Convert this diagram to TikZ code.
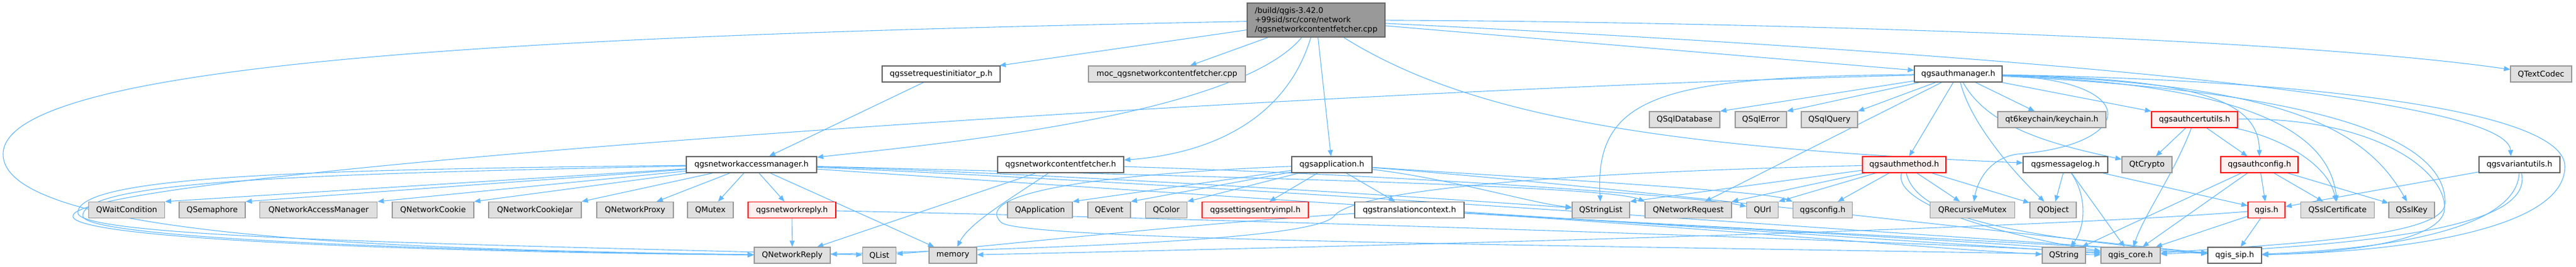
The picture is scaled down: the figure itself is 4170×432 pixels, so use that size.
\documentclass[tikz,border=0pt]{standalone}
\usepackage{fontspec}
\setmainfont{DejaVu Sans}
\usetikzlibrary{arrows.meta}
\pgfdeclarelayer{edgelayer}
\pgfsetlayers{edgelayer,main}
\definecolor{edgec}{HTML}{63B8FF}
\definecolor{extfill}{HTML}{E0E0E0}
\definecolor{extdraw}{HTML}{999999}
\definecolor{docdraw}{HTML}{666666}
\definecolor{redfill}{HTML}{FFF0F0}
\definecolor{reddraw}{HTML}{FF0000}
\definecolor{mainfill}{HTML}{999999}
\begin{document}
\begin{tikzpicture}[x=1pt,y=-1pt,
  box/.style={rectangle, inner sep=0pt, minimum height=26pt, line width=1.3pt, font=\fontsize{12.7pt}{15pt}\selectfont},
  ext/.style={box, fill=extfill, draw=extdraw},
  doc/.style={box, fill=white, draw=docdraw},
  redbox/.style={box, fill=redfill, draw=reddraw},
  mainbox/.style={box, fill=mainfill, draw=docdraw, align=left, minimum height=55pt},
  e/.style={draw=edgec, line width=1.1pt, -{Triangle[length=10pt,width=8pt]}}
]
\useasboundingbox (0,0) rectangle (4170,432);
% row 0
\node[mainbox, minimum width=223pt] (main) at (2130.5,32.5) {/build/qgis-3.42.0\\+99sid/src/core/network\\/qgsnetworkcontentfetcher.cpp};
% row 1
\node[doc, minimum width=191pt] (sri) at (1523.5,120) {qgssetrequestinitiator\_p.h};
\node[ext, minimum width=254pt] (moc) at (1889,120) {moc\_qgsnetworkcontentfetcher.cpp};
\node[doc, minimum width=142pt] (am) at (3170,120) {qgsauthmanager.h};
\node[ext, minimum width=99pt] (qtc) at (4113.5,120) {QTextCodec};
% row 1.5
\node[ext, minimum width=114pt] (sqldb) at (2727,194) {QSqlDatabase};
\node[ext, minimum width=83pt] (sqlerr) at (2850.5,194) {QSqlError};
\node[ext, minimum width=91pt] (sqlq) at (2961.5,194) {QSqlQuery};
\node[ext, minimum width=175pt] (kc) at (3321.5,194) {qt6keychain/keychain.h};
\node[redbox, minimum width=139pt] (acu) at (3552.5,194) {qgsauthcertutils.h};
% row 2
\node[doc, minimum width=211pt] (nam) at (1216.5,267) {qgsnetworkaccessmanager.h};
\node[doc, minimum width=204pt] (ncf) at (1717,267) {qgsnetworkcontentfetcher.h};
\node[doc, minimum width=130pt] (app) at (2156,267) {qgsapplication.h};
\node[redbox, minimum width=135pt] (amth) at (3082.5,267) {qgsauthmethod.h};
\node[doc, minimum width=137pt] (ml) at (3343.5,267) {qgsmessagelog.h};
\node[ext, minimum width=81pt] (qca) at (3475.5,267) {QtCrypto};
\node[redbox, minimum width=125pt] (ac) at (3657.5,267) {qgsauthconfig.h};
\node[doc, minimum width=131pt] (vu) at (4078.5,267) {qgsvariantutils.h};
% row 3
\node[ext, minimum width=123pt] (qwc) at (205,340.5) {QWaitCondition};
\node[ext, minimum width=107pt] (qsem) at (343.5,340.5) {QSemaphore};
\node[ext, minimum width=190pt] (qnam) at (515.7,340.5) {QNetworkAccessManager};
\node[ext, minimum width=132pt] (qnc) at (701,340.5) {QNetworkCookie};
\node[ext, minimum width=150pt] (qncj) at (866,340.5) {QNetworkCookieJar};
\node[ext, minimum width=124pt] (qnp) at (1028,340.5) {QNetworkProxy};
\node[ext, minimum width=74pt] (qmx) at (1150,340.5) {QMutex};
\node[redbox, minimum width=142pt] (nr) at (1282,340.5) {qgsnetworkreply.h};
\node[ext, minimum width=105pt] (qapp) at (1683.5,340.5) {QApplication};
\node[ext, minimum width=69pt] (qev) at (1795.5,340.5) {QEvent};
\node[ext, minimum width=67pt] (qcol) at (1888,340.5) {QColor};
\node[redbox, minimum width=172pt] (sei) at (2032,340.5) {qgssettingsentryimpl.h};
\node[doc, minimum width=177pt] (tc) at (2281.5,340.5) {qgstranslationcontext.h};
\node[ext, minimum width=93pt] (qsl) at (2591.5,340.5) {QStringList};
\node[ext, minimum width=140pt] (qnrq) at (2733,340.5) {QNetworkRequest};
\node[ext, minimum width=51pt] (qurl) at (2853,340.5) {QUrl};
\node[ext, minimum width=96pt] (cfg) at (2950.5,340.5) {qgsconfig.h};
\node[ext, minimum width=137pt] (qrm) at (3193,340.5) {QRecursiveMutex};
\node[ext, minimum width=75pt] (qobj) at (3323.5,340.5) {QObject};
\node[redbox, minimum width=60pt] (qgis) at (3669,340.5) {qgis.h};
\node[ext, minimum width=119pt] (qssl) at (3784,340.5) {QSslCertificate};
\node[ext, minimum width=74pt] (qkey) at (3904,340.5) {QSslKey};
% row 4
\node[ext, minimum width=123pt] (qnr) at (1282.5,414) {QNetworkReply};
\node[ext, minimum width=54pt] (qlist) at (1423.5,414) {QList};
\node[ext, minimum width=77pt] (mem) at (1542.5,414) {memory};
\node[ext, minimum width=70pt] (qstr) at (3341,414) {QString};
\node[ext, minimum width=96pt] (core) at (3449,414) {qgis\_core.h};
\node[doc, minimum width=87pt] (sip) at (3617.5,414) {qgis\_sip.h};

\begin{pgfonlayer}{edgelayer}
% ---- edges: main
\draw[e] (main) -- (sri);
\draw[e] (main) -- (moc);
\draw[e] (main) .. controls (2000,190) and (1500,235) .. (nam);
\draw[e] (main) .. controls (2080,200) and (1950,250) .. (ncf);
\draw[e] (main) -- (app);
\draw[e] (main) -- (am);
\draw[e] (main) .. controls (2800,35) and (3700,60) .. (qtc);
\draw[e] (main) .. controls (3500,100) and (4060,170) .. ([xshift=-14pt]vu.north);
\draw[e] (main) .. controls (2380,190) and (2700,240) .. (ml);
\draw[e] (main) .. controls (1000,55) and (5,90) .. (5,250) .. controls (5,390) and (700,405) .. (qnr);
\draw[e] (sri) -- (nam);
% ---- nam
\draw[e] (nam) -- (qwc.north east);
\draw[e] (nam) -- (qsem.north east);
\draw[e] (nam) -- (qnam.north east);
\draw[e] (nam) -- (qnc.north east);
\draw[e] (nam) -- (qncj.north east);
\draw[e] (nam) -- (qnp);
\draw[e] (nam) -- (qmx);
\draw[e] (nam) -- (nr);
\draw[e] (nam) -- (mem);
\draw[e] (nam) .. controls (500,275) and (126,285) .. (126,345) .. controls (126,385) and (700,395) .. (qlist);
\draw[e] (nam) .. controls (520,282) and (134,292) .. (134,350) .. controls (134,390) and (800,408) .. (qnr);
\draw[e] (nam) .. controls (1800,285) and (2450,330) .. (qsl);
\draw[e] (nam) .. controls (1900,285) and (2600,300) .. (qnrq.north west);
\draw[e] (nam) .. controls (1700,300) and (3000,385) .. (core);
\draw[e] (nam) .. controls (2000,300) and (3300,395) .. (sip);
% ---- nr
\draw[e] (nr) -- (qnr);
\draw[e] (nr) .. controls (2000,355) and (3200,395) .. (core);
% ---- ncf
\draw[e] (ncf) -- (qnr);
\draw[e] (ncf) .. controls (1640,320) and (1570,360) .. (mem);
\draw[e] (ncf) .. controls (2300,285) and (2760,320) .. (qurl);
% ---- app
\draw[e] (app) -- (qapp.north east);
\draw[e] (app) -- (qev.north east);
\draw[e] (app) -- (qcol.north east);
\draw[e] (app) -- (sei);
\draw[e] (app) -- (tc);
\draw[e] (app) .. controls (2350,290) and (2480,330) .. (qsl);
\draw[e] (app) .. controls (2500,290) and (2860,310) .. (cfg.north west);
\draw[e] (app) .. controls (1720,285) and (1580,320) .. (1620,360) .. controls (1640,390) and (2500,397) .. (core);
\draw[e] (app) .. controls (2600,300) and (3400,395) .. (sip);
% ---- tc
\draw[e] (tc) .. controls (1900,365) and (1600,400) .. (qlist);
\draw[e] (tc) .. controls (2700,365) and (3150,405) .. (qstr);
\draw[e] (tc) .. controls (2800,370) and (3300,397) .. (core);
\draw[e] (tc) .. controls (2900,375) and (3400,400) .. (sip);
% ---- am
\draw[e] (am) -- (sqldb.north east);
\draw[e] (am) -- (sqlerr.north east);
\draw[e] (am) -- (sqlq.north east);
\draw[e] (am) .. controls (2700,125) and (2580,150) .. (qsl);
\draw[e] (am) -- (qnrq);
\draw[e] (am) .. controls (2000,150) and (125,280) .. (118,350) .. controls (112,392) and (800,410) .. (qnr);
\draw[e] (am) -- (kc);
\draw[e] (am) -- (acu);
\draw[e] (am) .. controls (3215,200) and (3300,230) .. (qca);
\draw[e] (am) -- (amth);
\draw[e] (am) .. controls (3190,200) and (3260,280) .. (qobj);
\draw[e] (am) .. controls (3470,130) and (3460,235) .. (3265,250) .. controls (3215,258) and (3200,300) .. (qrm);
\draw[e] (am) .. controls (3550,128) and (3657,160) .. (ac);
\draw[e] (am) .. controls (3600,135) and (3770,200) .. (qssl);
\draw[e] (am) .. controls (3700,135) and (3830,210) .. (qkey);
\draw[e] (am) .. controls (3750,130) and (4152,180) .. (4152,270) .. controls (4152,370) and (3900,408) .. (sip);
\draw[e] (am) .. controls (3780,150) and (3960,230) .. (3958,330) .. controls (3956,385) and (3700,395) .. (core);
% ---- acu
\draw[e] (acu) -- (qca);
\draw[e] (acu) -- (ac);
\draw[e] (acu) .. controls (3520,280) and (3470,350) .. (core);
\draw[e] (acu) .. controls (3700,225) and (3770,270) .. (qssl);
\draw[e] (acu) .. controls (3850,190) and (3962,280) .. (3957,340) .. controls (3952,390) and (3800,410) .. (sip);
% ---- ac
\draw[e] (ac) -- (qstr);
\draw[e] (ac) -- (core);
\draw[e] (ac) -- (qgis);
\draw[e] (ac) -- (qssl);
\draw[e] (ac) -- (qkey);
% ---- qgis
\draw[e] (qgis) -- (core);
\draw[e] (qgis) -- (sip);
\draw[e] (qgis) .. controls (3300,370) and (2400,395) .. (mem);
% ---- ml
\draw[e] (ml) -- (qobj);
\draw[e] (ml) .. controls (3380,320) and (3375,370) .. (qstr);
\draw[e] (ml) -- (core);
\draw[e] (ml) -- (qgis);
% ---- amth
\draw[e] (amth) -- (qsl.north east);
\draw[e] (amth) -- (qnrq.north east);
\draw[e] (amth) -- (qurl.north east);
\draw[e] (amth) -- (cfg);
\draw[e] (amth) -- (qrm);
\draw[e] (amth) -- (qobj);
\draw[e] (amth) .. controls (2500,280) and (2190,310) .. (2160,350) .. controls (2130,390) and (1700,402) .. (qnr);
\draw[e] (amth) .. controls (3060,340) and (3300,392) .. (core);
\draw[e] (amth) .. controls (3100,340) and (3200,380) .. (sip);
% ---- vu
\draw[e] (vu) -- (qgis);
\draw[e] (vu) .. controls (4075,350) and (3950,400) .. (sip);
\draw[e] (vu) .. controls (4100,360) and (3900,395) .. (core);
\end{pgfonlayer}
\end{tikzpicture}
\end{document}
